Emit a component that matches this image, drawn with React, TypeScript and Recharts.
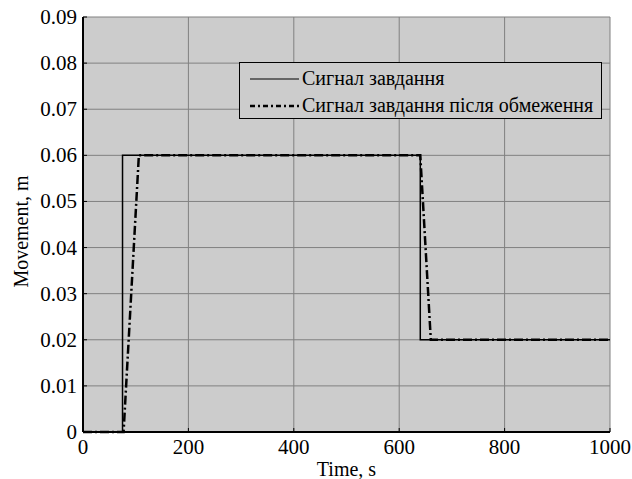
import React from 'react';
import {
  LineChart,
  Line,
  XAxis,
  YAxis,
  CartesianGrid,
} from 'recharts';

// reference signal (step changes)
const signalTime = [0, 75, 75, 640, 640, 1000];
const signalValue = [0, 0, 0.06, 0.06, 0.02, 0.02];

// signal after rate limiting
const limitedTime = [0, 77, 106, 640, 660, 1000];
const limitedValue = [0, 0, 0.06, 0.06, 0.02, 0.02];

const xTicks = [0, 200, 400, 600, 800, 1000];
const yTicks = [0, 0.01, 0.02, 0.03, 0.04, 0.05, 0.06, 0.07, 0.08, 0.09];

const seriesNames = ['Сигнал завдання', 'Сигнал завдання після обмеження'];

const signalData = signalTime.map((t, i) => ({ t, v: signalValue[i] }));
const limitedData = limitedTime.map((t, i) => ({ t, v: limitedValue[i] }));

const font = '"Liberation Serif", "Times New Roman", serif';
const dashDot = '9 3 2 3';

const XTick = (props: any) => {
  const { x, y, payload } = props;
  return (
    <g>
      <line x1={x} y1={y} x2={x} y2={y - 4} stroke="#000" strokeWidth={1} />
      <text x={x} y={y + 22} textAnchor="middle" fill="#000" fontFamily={font} fontSize={21}>
        {payload.value}
      </text>
    </g>
  );
};

const YTick = (props: any) => {
  const { x, y, payload } = props;
  const v = payload.value as number;
  return (
    <g>
      <line x1={x} y1={y} x2={x + 4} y2={y} stroke="#000" strokeWidth={1} />
      <text x={x - 6} y={y + 7} textAnchor="end" fill="#000" fontFamily={font} fontSize={21}>
        {v === 0 ? '0' : v.toFixed(2)}
      </text>
    </g>
  );
};

// inner tick marks on the top and right edges of the box
const TopTick = (props: any) => (
  <line x1={props.x} y1={props.y} x2={props.x} y2={props.y + 4} stroke="#000" strokeWidth={1} />
);
const RightTick = (props: any) => (
  <line x1={props.x} y1={props.y} x2={props.x - 4} y2={props.y} stroke="#000" strokeWidth={1} />
);

const XTitle = (props: any) => {
  const { x, y, width } = props.viewBox;
  return (
    <text x={x + width / 2} y={y + 44} textAnchor="middle" fill="#000" fontFamily={font} fontSize={20}>
      Time, s
    </text>
  );
};

const YTitle = (props: any) => {
  const { y, height } = props.viewBox;
  const cx = 28;
  const cy = y + height / 2 + 7;
  return (
    <text x={cx} y={cy} transform={`rotate(-90, ${cx}, ${cy})`} textAnchor="middle" fill="#000" fontFamily={font} fontSize={20}>
      Movement, m
    </text>
  );
};

const LegendBox = () => (
  <div
    style={{
      position: 'absolute',
      left: 239,
      top: 62,
      width: 363,
      height: 57,
      boxSizing: 'border-box',
      border: '1.5px solid #000',
      background: '#cccccc',
      fontFamily: font,
      fontSize: 20,
      color: '#000',
      padding: '2px 0 0 10px',
    }}
  >
    {seriesNames.map((name, i) => (
      <div key={name} style={{ display: 'flex', alignItems: 'center', height: 27, whiteSpace: 'nowrap' }}>
        <svg width={49} height={6} style={{ marginRight: 3 }}>
          <line
            x1={0}
            y1={3}
            x2={49}
            y2={3}
            stroke="#000"
            strokeWidth={i === 0 ? 1 : 2.5}
            strokeDasharray={i === 0 ? undefined : '5 3 2 3'}
          />
        </svg>
        <span>{name}</span>
      </div>
    ))}
  </div>
);

export default function App() {
  return (
    <div style={{ position: 'absolute', left: 0, top: 0, width: 632, height: 479, background: '#fff', fontFamily: font }}>
      <LineChart
        width={632}
        height={479}
        margin={{ top: 17, right: 22, bottom: 17, left: 23 }}
      >
        <CartesianGrid
          stroke="#808080"
          strokeWidth={1}
          fill="#cccccc"
          fillOpacity={1}
          horizontalValues={yTicks}
          verticalValues={xTicks}
        />
        <XAxis
          dataKey="t"
          type="number"
          domain={[0, 1000]}
          ticks={xTicks}
          allowDataOverflow
          height={30}
          tickLine={false}
          tickSize={0}
          tickMargin={0}
          axisLine={{ stroke: '#000', strokeWidth: 2 }}
          tick={<XTick />}
          label={<XTitle />}
        />
        <XAxis
          xAxisId="top"
          orientation="top"
          type="number"
          domain={[0, 1000]}
          ticks={xTicks}
          height={0}
          tickLine={false}
          tickSize={0}
          tickMargin={0}
          tick={<TopTick />}
          axisLine={{ stroke: '#000', strokeWidth: 1.5 }}
        />
        <YAxis
          type="number"
          domain={[0, 0.09]}
          ticks={yTicks}
          width={60}
          tickLine={false}
          tickSize={0}
          tickMargin={0}
          axisLine={{ stroke: '#000', strokeWidth: 2 }}
          tick={<YTick />}
          label={<YTitle />}
        />
        <YAxis
          yAxisId="r"
          orientation="right"
          type="number"
          domain={[0, 0.09]}
          ticks={yTicks}
          width={0}
          tickLine={false}
          tickSize={0}
          tickMargin={0}
          tick={<RightTick />}
          axisLine={{ stroke: '#000', strokeWidth: 1.5 }}
        />
        <Line
          data={signalData}
          dataKey="v"
          type="linear"
          stroke="#000"
          strokeWidth={1.5}
          dot={false}
          isAnimationActive={false}
        />
        <Line
          data={limitedData}
          dataKey="v"
          type="linear"
          stroke="#000"
          strokeWidth={2.5}
          strokeDasharray={dashDot}
          dot={false}
          isAnimationActive={false}
        />
      </LineChart>
      <LegendBox />
    </div>
  );
}
